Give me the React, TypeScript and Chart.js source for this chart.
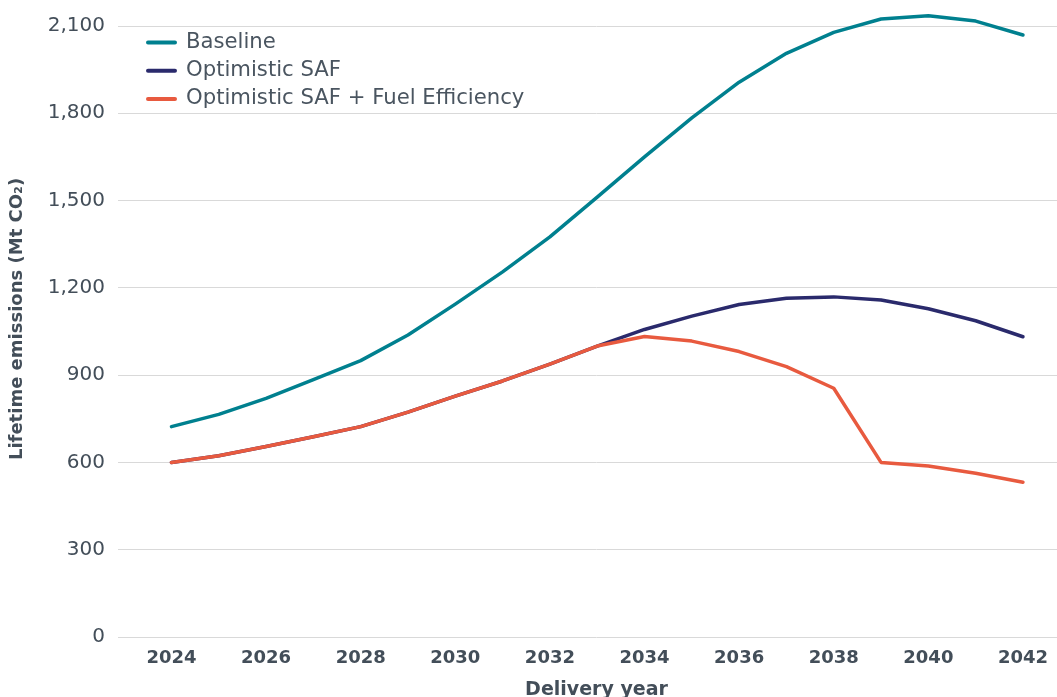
import React, { useEffect, useRef } from 'react';
import { Chart, registerables } from 'chart.js';

Chart.register(...registerables);

const years = [2024, 2025, 2026, 2027, 2028, 2029, 2030, 2031, 2032, 2033, 2034, 2035, 2036, 2037, 2038, 2039, 2040, 2041, 2042];
const baseline = [723, 765, 820, 885, 950, 1038, 1144, 1255, 1375, 1512, 1650, 1784, 1907, 2006, 2078, 2124, 2135, 2117, 2069];
const optimisticSAF = [600, 623, 655, 688, 723, 773, 828, 880, 938, 1000, 1057, 1103, 1143, 1164, 1169, 1158, 1128, 1087, 1032];
const optimisticSAFFuel = [600, 623, 655, 688, 723, 773, 828, 880, 938, 1000, 1033, 1017, 981, 929, 855, 600, 588, 563, 532];
const seriesLabels = ['Baseline', 'Optimistic SAF', 'Optimistic SAF + Fuel Efficiency'];
const seriesColors = ['#00808f', '#2a2a6c', '#e85a3f'];
const xTicks = [2024, 2026, 2028, 2030, 2032, 2034, 2036, 2038, 2040, 2042];
const yTicks = [0, 300, 600, 900, 1200, 1500, 1800, 2100];
const xTitle = 'Delivery year';
const yTitle = '    Lifetime emissions (Mt CO₂)';

const FONT = "'DejaVu Sans', sans-serif";
const TEXT = '#434e59';

const legendPlugin = {
  id: 'insideLegend',
  afterDatasetsDraw(chart: any) {
    const { ctx, chartArea } = chart;
    const x0 = chartArea.left + 30;
    const y0 = chartArea.top + 16.5;
    ctx.save();
    ctx.font = `21.2px ${FONT}`;
    ctx.textBaseline = 'middle';
    ctx.textAlign = 'left';
    seriesLabels.forEach((label, i) => {
      const y = y0 + i * 28.2;
      ctx.strokeStyle = seriesColors[i];
      ctx.lineWidth = 4;
      ctx.lineCap = 'round';
      ctx.beginPath();
      ctx.moveTo(x0, y);
      ctx.lineTo(x0 + 27, y);
      ctx.stroke();
      ctx.fillStyle = '#4a5560';
      ctx.fillText(label, x0 + 38, y);
    });
    ctx.restore();
  },
};

export default function App() {
  const ref = useRef<HTMLCanvasElement>(null);

  useEffect(() => {
    if (!ref.current) return;
    const series = [baseline, optimisticSAF, optimisticSAFFuel];
    const chart = new Chart(ref.current, {
      type: 'line',
      data: {
        datasets: series.map((vals, i) => ({
          label: seriesLabels[i],
          data: years.map((yr, j) => ({ x: yr, y: vals[j] })),
          borderColor: seriesColors[i],
          backgroundColor: seriesColors[i],
          borderWidth: 3.5,
          pointRadius: 0,
          tension: 0,
          clip: false,
          borderCapStyle: 'round',
          borderJoinStyle: 'round',
          order: 2 - i,
        })),
      },
      options: {
        animation: false,
        responsive: false,
        devicePixelRatio: 1,
        layout: { padding: { top: 26, right: 0, left: 0, bottom: 0 } },
        plugins: { legend: { display: false }, tooltip: { enabled: false } },
        scales: {
          x: {
            type: 'linear',
            min: 2022.87,
            max: 2043.1,
            afterBuildTicks: (s: any) => {
              s.ticks = xTicks.map((v) => ({ value: v }));
            },
            afterFit: (s: any) => {
              s.height = 73;
            },
            grid: { display: false, drawTicks: false },
            border: { display: false },
            ticks: {
              callback: (v: any) => String(v),
              font: { family: FONT, size: 18, weight: 'bold' },
              color: TEXT,
              padding: 11,
              maxRotation: 0,
              autoSkip: false,
            },
            title: {
              display: true,
              text: xTitle,
              font: { family: FONT, size: 19, weight: 'bold' },
              color: TEXT,
              padding: { top: 0, bottom: 9 },
            },
          },
          y: {
            min: 0,
            max: 2100,
            afterBuildTicks: (s: any) => {
              s.ticks = yTicks.map((v) => ({ value: v }));
            },
            afterFit: (s: any) => {
              s.width = 118;
            },
            grid: { color: '#d9d9d9', lineWidth: 1, drawTicks: false },
            border: { display: false },
            ticks: {
              callback: (v: any) => Number(v).toLocaleString('en-US'),
              font: { family: FONT, size: 20 },
              color: TEXT,
              padding: 13,
            },
            title: {
              display: true,
              text: yTitle,
              font: { family: FONT, size: 18, weight: 'bold' },
              color: TEXT,
              padding: { top: 7, bottom: 0 },
            },
          },
        },
      },
      plugins: [legendPlugin],
    });
    return () => chart.destroy();
  }, []);

  return (
    <div style={{ position: 'fixed', left: 0, top: 0, width: 1057, height: 697, overflow: 'hidden', background: '#fff' }}>
      <canvas ref={ref} width={1075} height={710} style={{ display: 'block' }} />
    </div>
  );
}
